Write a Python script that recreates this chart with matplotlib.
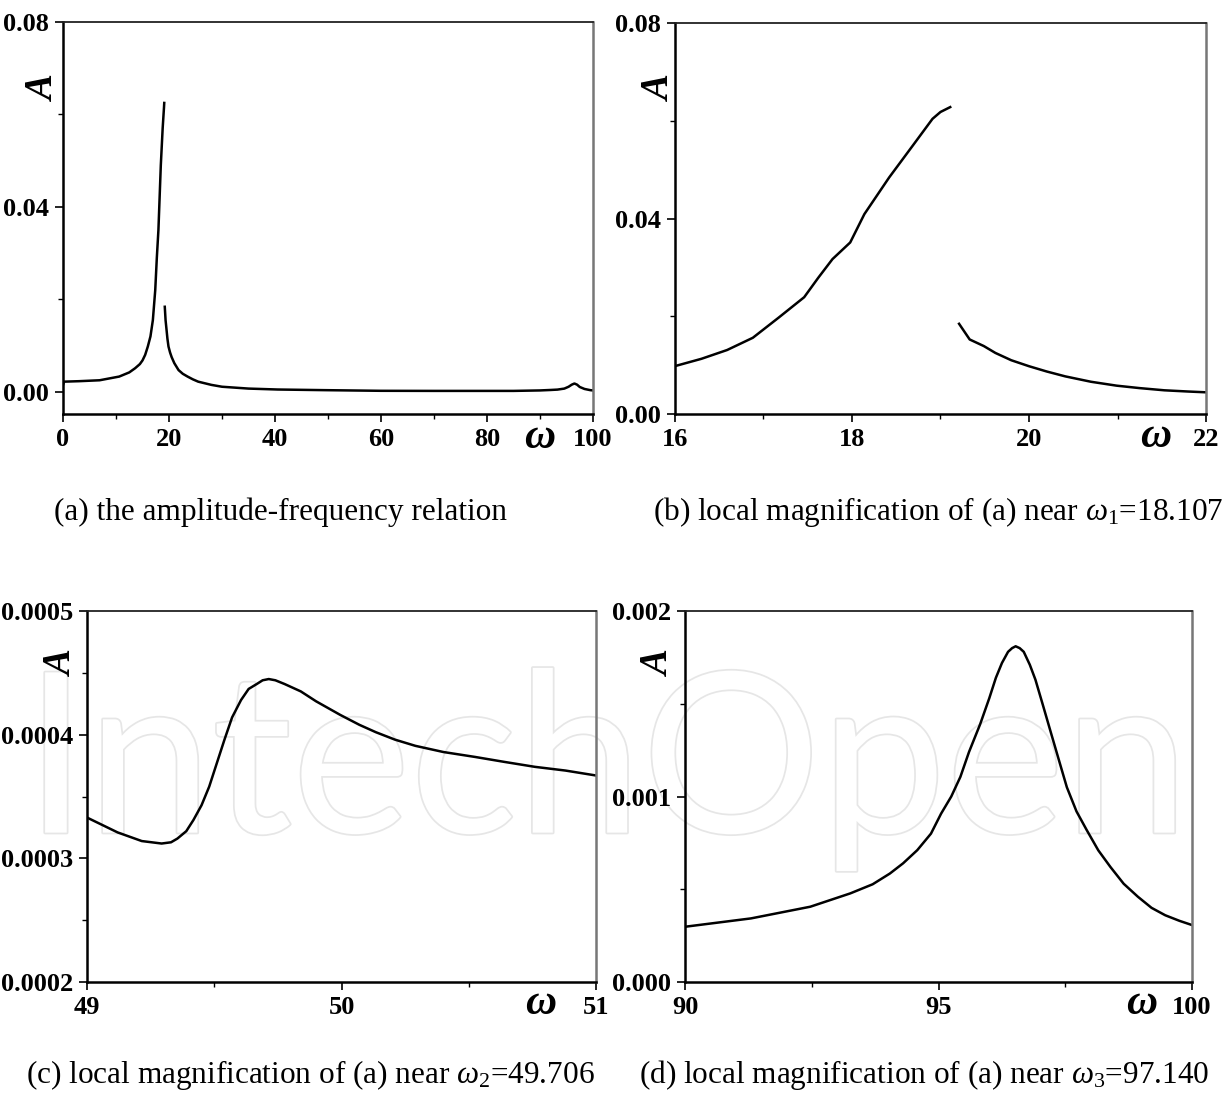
import matplotlib
matplotlib.use("Agg")
from matplotlib import pyplot as plt
from matplotlib.ticker import MultipleLocator, FormatStrFormatter
import matplotlib.patheffects as pe

plt.rcParams['font.family'] = ['Liberation Serif', 'DejaVu Serif']
plt.rcParams['mathtext.fontset'] = 'custom'
plt.rcParams['mathtext.rm'] = 'Liberation Serif'
plt.rcParams['mathtext.it'] = 'Liberation Serif:italic'
plt.rcParams['mathtext.bf'] = 'Liberation Serif:bold'

# (a) full range, two branches around the jump near 19
a_w1 = [0, 0.2, 3, 6.9, 10.6, 12.5, 13.6, 14.5, 15.0, 15.5, 16.0, 16.5, 16.95, 17.4, 17.7,
        18.0, 18.45, 18.8, 19.05, 19.1]
a_A1 = [0.0015, 0.0022, 0.0023, 0.0025, 0.0033, 0.0042, 0.0051, 0.0060, 0.0068, 0.0080,
        0.0098, 0.012, 0.0155, 0.022, 0.029, 0.035, 0.049, 0.057, 0.0615, 0.0625]
a_w2 = [19.2, 19.35, 19.5, 19.7, 19.9, 20.2, 20.5, 21.0, 21.8, 22.6, 23.5, 24.5, 25.5, 28,
        30, 35, 40.5, 49.4, 60, 70, 85, 90, 92, 93.3, 94.6, 95.4, 96.0, 96.5, 97.0, 97.5,
        98.4, 99.5, 100]
a_A2 = [0.0184, 0.0155, 0.0138, 0.0115, 0.0098, 0.0085, 0.0075, 0.0062, 0.0047, 0.0039,
        0.0033, 0.0027, 0.0022, 0.0015, 0.0011, 0.0007, 0.0005, 0.00036, 0.00022, 0.0002,
        0.0002, 0.0003, 0.0004, 0.00048, 0.0007, 0.0011, 0.00155, 0.0018, 0.00155, 0.00105,
        0.00062, 0.00036, 0.0003]

# (b) near omega_1
b_w1 = [16.0, 16.3, 16.59, 16.88, 17.17, 17.46, 17.62, 17.78, 17.98, 18.14, 18.42, 18.69,
        18.91, 19.0, 19.11]
b_A1 = [0.0098, 0.0113, 0.0131, 0.0156, 0.0197, 0.0239, 0.0279, 0.0317, 0.0351, 0.0409,
        0.0484, 0.0550, 0.0604, 0.0618, 0.0628]
b_w2 = [19.21, 19.33, 19.49, 19.62, 19.8, 20.0, 20.2, 20.41, 20.7, 20.99, 21.25, 21.53, 21.8, 22.0]
b_A2 = [0.01846, 0.01525, 0.0139, 0.0125, 0.0110, 0.00978, 0.0087, 0.0077, 0.0066, 0.0058,
        0.0053, 0.00485, 0.0046, 0.00444]

# (c) near omega_2
c_w = [49.0, 49.12, 49.215, 49.293, 49.33, 49.355, 49.39, 49.418, 49.45, 49.48, 49.51,
       49.54, 49.57, 49.605, 49.635, 49.667, 49.69, 49.714, 49.74, 49.776, 49.84, 49.90,
       49.995, 50.07, 50.135, 50.21, 50.29, 50.4, 50.525, 50.64, 50.76, 50.88, 51.0]
c_A = [0.000333, 0.000321, 0.000314, 0.000312, 0.000313, 0.000316, 0.000322, 0.000331,
       0.000343, 0.000358, 0.000377, 0.000396, 0.000414, 0.000428, 0.000437, 0.000441,
       0.000444, 0.000445, 0.000444, 0.000441, 0.000435, 0.000427, 0.000416, 0.000408,
       0.000402, 0.000396, 0.000391, 0.000386, 0.000382, 0.000378, 0.000374, 0.000371,
       0.000367]

# (d) near omega_3
d_w = [90.0, 91.3, 92.47, 93.26, 93.7, 94.04, 94.3, 94.58, 94.85, 95.05, 95.25, 95.43,
       95.6, 95.82, 96.0, 96.13, 96.25, 96.37, 96.45, 96.52, 96.6, 96.68, 96.8, 96.91,
       97.05, 97.22, 97.38, 97.53, 97.72, 97.92, 98.15, 98.39, 98.65, 98.93, 99.2, 99.47,
       99.75, 100.0]
d_A = [0.000298, 0.000343, 0.000406, 0.000478, 0.000527, 0.000585, 0.000640, 0.000711,
       0.000800, 0.000908, 0.001000, 0.001106, 0.00124, 0.00139, 0.00153, 0.00164,
       0.00172, 0.00178, 0.00180, 0.00181, 0.00180, 0.00178, 0.00171, 0.00163, 0.00150,
       0.00134, 0.00119, 0.00105, 0.00092, 0.00082, 0.00071, 0.00062, 0.00053, 0.00046,
       0.00040, 0.00036, 0.00033, 0.000307]

captions = [
    "(a) the amplitude-frequency relation",
    r"(b) local magnification of (a) near $\omega_{1}$=18.107",
    r"(c) local magnification of (a) near $\omega_{2}$=49.706",
    r"(d) local magnification of (a) near $\omega_{3}$=97.140",
]

fig = plt.figure(figsize=(12.31, 10.97), dpi=100)

# faint watermark behind everything
fig.text(0.02, 0.241, "IntechOpen", fontsize=161, family="Lato", color="white",
         ha="left", va="baseline", zorder=-5,
         path_effects=[pe.withStroke(linewidth=2.5, foreground="#e6e6e6")])


def style_ax(ax, xlim, ylim, xmaj, xmin, ymaj, ymin, yfmt, a_pos, w_pos):
    ax.set_facecolor("none")
    ax.set_xlim(*xlim)
    ax.set_ylim(*ylim)
    ax.xaxis.set_major_locator(MultipleLocator(xmaj))
    ax.xaxis.set_minor_locator(MultipleLocator(xmin))
    ax.yaxis.set_major_locator(MultipleLocator(ymaj))
    ax.yaxis.set_minor_locator(MultipleLocator(ymin))
    ax.yaxis.set_major_formatter(FormatStrFormatter(yfmt))
    ax.xaxis.set_major_formatter(FormatStrFormatter("%g"))
    ax.tick_params(which="major", direction="out", length=6, width=1.2, pad=4, labelsize=19)
    ax.tick_params(which="minor", direction="out", length=3.5, width=1.0)
    for lab in ax.get_xticklabels() + ax.get_yticklabels():
        lab.set_fontweight("bold")
    for s in ("left", "bottom"):
        ax.spines[s].set_linewidth(1.8)
        ax.spines[s].set_color("black")
    ax.spines["top"].set_linewidth(1.3)
    ax.spines["top"].set_color("#222222")
    ax.spines["right"].set_linewidth(1.8)
    ax.spines["right"].set_color("#777777")
    ax.text(a_pos[0], a_pos[1], "A", transform=ax.transAxes, rotation=90,
            fontsize=28, fontweight="bold", style="italic", ha="center", va="center")
    ax.text(w_pos[0], w_pos[1], "ω", transform=ax.transAxes,
            fontsize=31, fontweight="bold", style="italic", ha="center", va="center")


ax_a = fig.add_axes([0.0512, 0.6226, 0.4305, 0.3573])
ax_a.plot(a_w1, a_A1, color="black", lw=1.8)
ax_a.plot(a_w2, a_A2, color="black", lw=1.8)
style_ax(ax_a, (0, 100), (-0.0048, 0.08), 20, 10, 0.04, 0.02, "%.2f", (-0.034, 0.83), (0.9, -0.06))

ax_b = fig.add_axes([0.5483, 0.6226, 0.4314, 0.3564])
ax_b.plot(b_w1, b_A1, color="black", lw=1.8)
ax_b.plot(b_w2, b_A2, color="black", lw=1.8)
style_ax(ax_b, (16, 22), (0, 0.08), 2, 1, 0.04, 0.02, "%.2f", (-0.028, 0.83), (0.906, -0.058))

ax_c = fig.add_axes([0.0707, 0.1048, 0.4135, 0.3382])
ax_c.plot(c_w, c_A, color="black", lw=1.8)
style_ax(ax_c, (49, 51), (0.0002, 0.0005), 1, 0.5, 0.0001, 0.00005, "%.4f", (-0.049, 0.857), (0.892, -0.06))

ax_d = fig.add_axes([0.5565, 0.1048, 0.4119, 0.3382])
ax_d.plot(d_w, d_A, color="black", lw=1.8)
style_ax(ax_d, (90, 100), (0, 0.002), 5, 2.5, 0.001, 0.0005, "%.3f", (-0.051, 0.857), (0.9, -0.06))

cap_pos = [(281, 512), (938, 512), (310, 1075), (924, 1075)]
for (cx, cy), txt in zip(cap_pos, captions):
    fig.text(cx / 1231, 1 - cy / 1097, txt, fontsize=22.5, ha="center", va="center")

fig.savefig("out.png", dpi=100)
